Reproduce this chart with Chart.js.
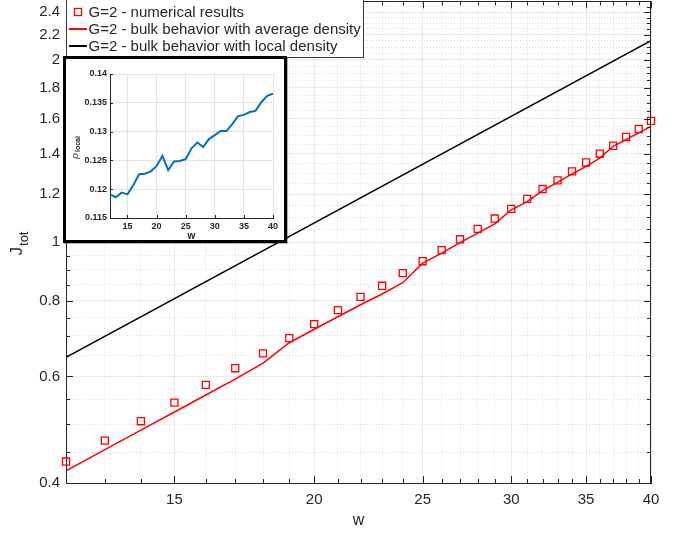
<!DOCTYPE html>
<html>
<head>
<meta charset="utf-8">
<script src="https://cdn.jsdelivr.net/npm/chart.js@4.4.0/dist/chart.umd.min.js"></script>
<style>
  html, body { margin: 0; padding: 0; background: #fff; }
  #wrap { position: relative; width: 674px; height: 534px; overflow: hidden; }
  #main { position: absolute; left: 0; top: -5px; }
  #insetBox {
    position: absolute; left: 63px; top: 56px;
    width: 218px; height: 181px;
    border: 3px solid #000; background: #fff;
    box-shadow: 1px 1px 0 rgba(0,0,0,0.3);
  }
  #inset { display: block; }
</style>
</head>
<body>
<div id="wrap">
  <canvas id="main" width="674" height="539"></canvas>
  <div id="insetBox"><canvas id="inset" width="218" height="181"></canvas></div>
</div>
<script>
// main plot data
const w = [12, 13, 14, 15, 16, 17, 18, 19, 20, 21, 22, 23, 24, 25, 26,
           27, 28, 29, 30, 31, 32, 33, 34, 35, 36, 37, 38, 39, 40];
const numerical = [0.434, 0.470, 0.506, 0.543, 0.581, 0.619, 0.655, 0.694, 0.732, 0.772,
                   0.812, 0.847, 0.889, 0.930, 0.970, 1.011, 1.052, 1.094, 1.135, 1.179,
                   1.224, 1.265, 1.309, 1.354, 1.400, 1.443, 1.492, 1.538, 1.586];
const avgDensity = [0.419, 0.454, 0.489, 0.524, 0.559, 0.594, 0.631, 0.682, 0.718, 0.753,
                    0.788, 0.821, 0.857, 0.923, 0.959, 0.998, 1.035, 1.072, 1.131, 1.167,
                    1.217, 1.255, 1.297, 1.334, 1.377, 1.440, 1.477, 1.515, 1.553];
const localW = [12, 40];
const localDensity = [0.645, 2.152];
const seriesLabels = ['G=2 - numerical results',
                      'G=2 - bulk behavior with average density',
                      'G=2 - bulk behavior with local density'];
const xTicks = [15, 20, 25, 30, 35, 40];
const yTicks = [0.4, 0.6, 0.8, 1, 1.2, 1.4, 1.6, 1.8, 2, 2.2, 2.4];

// inset data
const rhoLocal = [0.1191, 0.1186, 0.1194, 0.1191, 0.1207, 0.1226, 0.1227, 0.1231, 0.1240, 0.1258,
                  0.1233, 0.1248, 0.1249, 0.1252, 0.1271, 0.1281, 0.1273, 0.1287, 0.1294, 0.1301,
                  0.1301, 0.1313, 0.1327, 0.1329, 0.1334, 0.1336, 0.1351, 0.1362, 0.1366];
const insetXTicks = [15, 20, 25, 30, 35, 40];
const insetYTicks = [0.115, 0.12, 0.125, 0.13, 0.135, 0.14];

const textColor = '#262626';
const OFF = 5; // main canvas sits 5px above the page top
Chart.defaults.font.family = '"Liberation Sans", Arial, sans-serif';
Chart.defaults.color = textColor;

// minor tick positions (log axes)
const minorX = [];
for (let v = 12; v <= 40; v++) minorX.push(v);
const minorY = [];
for (let k = 8; k <= 50; k++) minorY.push(Math.round(k * 5) / 100);

const isIn = (arr, v) => arr.some(t => Math.abs(t - v) < 1e-6);

function inwardTicks(cfg) {
  return {
    id: 'inwardTicks' + cfg.name,
    afterDraw(chart) {
      const {ctx, chartArea: a, scales: {x, y}} = chart;
      ctx.save();
      ctx.strokeStyle = textColor;
      ctx.lineWidth = 1;
      ctx.beginPath();
      x.ticks.forEach(t => {
        const px = Math.round(x.getPixelForValue(t.value)) + 0.5;
        const len = isIn(cfg.majorX, t.value) ? cfg.major : cfg.minor;
        ctx.moveTo(px, a.bottom); ctx.lineTo(px, a.bottom - len);
        if (cfg.box) { ctx.moveTo(px, a.top); ctx.lineTo(px, a.top + len); }
      });
      y.ticks.forEach(t => {
        const py = Math.round(y.getPixelForValue(t.value)) + 0.5;
        const len = isIn(cfg.majorY, t.value) ? cfg.major : cfg.minor;
        ctx.moveTo(a.left, py); ctx.lineTo(a.left + len, py);
        if (cfg.box) { ctx.moveTo(a.right, py); ctx.lineTo(a.right - len, py); }
      });
      if (cfg.box) {
        ctx.moveTo(a.left, Math.round(a.top) + 0.5); ctx.lineTo(a.right, Math.round(a.top) + 0.5);
        ctx.moveTo(Math.round(a.right) - 0.5, a.top); ctx.lineTo(Math.round(a.right) - 0.5, a.bottom);
      }
      ctx.stroke();
      ctx.restore();
    }
  };
}

// rotated y title with subscript
function yTitle(cfg) {
  return {
    id: 'yTitle' + cfg.name,
    afterDraw(chart) {
      const ctx = chart.ctx;
      ctx.save();
      ctx.translate(cfg.x, cfg.y);
      ctx.rotate(-Math.PI / 2);
      ctx.fillStyle = textColor;
      ctx.textBaseline = 'middle';
      ctx.font = cfg.mainFont;
      const wMain = ctx.measureText(cfg.main).width;
      ctx.font = cfg.subFont;
      const wSub = ctx.measureText(cfg.sub).width;
      const start = -(wMain + wSub) / 2;
      ctx.font = cfg.mainFont;
      ctx.textAlign = 'left';
      ctx.fillText(cfg.main, start, 0);
      ctx.font = cfg.subFont;
      ctx.fillText(cfg.sub, start + wMain + 1, cfg.subShift);
      ctx.restore();
    }
  };
}

const legendBox = {
  id: 'legendBox',
  afterDraw(chart) {
    const ctx = chart.ctx;
    const left = 66.5, top = -0.5, right = 363.5, bottom = 57.5;
    ctx.save();
    ctx.translate(0, OFF);
    ctx.fillStyle = '#fff';
    ctx.fillRect(left, top, right - left, bottom - top);
    ctx.strokeStyle = '#3a3a3a';
    ctx.lineWidth = 1;
    ctx.strokeRect(left, top, right - left, bottom - top);
    ctx.font = '15px "Liberation Sans", Arial, sans-serif';
    ctx.textBaseline = 'middle';
    ctx.fillStyle = textColor;
    chart.data.datasets.forEach((ds, i) => {
      const cy = 12 + i * 17;
      ctx.strokeStyle = ds.borderColor;
      if (ds.showLine === false) {
        ctx.lineWidth = 1.3;
        ctx.strokeRect(74.5, cy - 3.5, 7, 7);
      } else {
        ctx.lineWidth = 2;
        ctx.beginPath();
        ctx.moveTo(69, cy); ctx.lineTo(87, cy);
        ctx.stroke();
      }
      ctx.fillText(ds.label, 88.5, cy + 0.5);
    });
    ctx.restore();
  }
};

new Chart(document.getElementById('main'), {
  type: 'line',
  data: {
    datasets: [
      {
        label: seriesLabels[0],
        data: w.map((v, i) => ({x: v, y: numerical[i]})),
        showLine: false,
        pointStyle: 'rect',
        pointRadius: 5,
        pointBorderWidth: 1.3,
        borderColor: '#ff0000',
        backgroundColor: 'rgba(0,0,0,0)',
        clip: false
      },
      {
        label: seriesLabels[1],
        data: w.map((v, i) => ({x: v, y: avgDensity[i]})),
        borderColor: '#ff0000',
        borderWidth: 1.5,
        pointRadius: 0,
        tension: 0
      },
      {
        label: seriesLabels[2],
        data: localW.map((v, i) => ({x: v, y: localDensity[i]})),
        borderColor: '#000000',
        borderWidth: 1.5,
        pointRadius: 0,
        tension: 0
      }
    ]
  },
  options: {
    responsive: false,
    animation: false,
    layout: {padding: {top: 0, right: 23, left: 0, bottom: 0}},
    plugins: {legend: {display: false}, tooltip: {enabled: false}},
    scales: {
      x: {
        type: 'logarithmic',
        min: 12, max: 40, bounds: 'data',
        afterBuildTicks: (s) => { s.ticks = minorX.map(v => ({value: v})); },
        afterFit: (s) => { s.height = 51; s.paddingLeft = 0; s.paddingRight = 0; },
        ticks: {
          autoSkip: false, maxRotation: 0, padding: 8,
          font: {size: 15},
          callback: (v) => isIn(xTicks, v) ? String(v) : ''
        },
        grid: {
          drawTicks: false,
          color: (c) => (c.tick && isIn(xTicks, c.tick.value)) ? 'rgba(0,0,0,0.08)' : 'rgba(0,0,0,0.13)'
        },
        border: {
          color: textColor, width: 1,
          dash: (c) => (c.tick && !isIn(xTicks, c.tick.value)) ? [1, 2] : []
        },
        title: {display: true, text: 'w', font: {size: 16}, padding: {top: 0, bottom: 4}}
      },
      y: {
        type: 'logarithmic',
        min: 0.4, max: 2.5, bounds: 'data',
        afterBuildTicks: (s) => { s.ticks = minorY.map(v => ({value: v})); },
        afterFit: (s) => { s.width = 66; s.paddingTop = 0; s.paddingBottom = 0; },
        ticks: {
          autoSkip: false, padding: 6,
          font: {size: 15},
          callback: (v) => isIn(yTicks, v) ? String(+v.toFixed(1)) : ''
        },
        grid: {
          drawTicks: false,
          color: (c) => (c.tick && isIn(yTicks, c.tick.value)) ? 'rgba(0,0,0,0.08)' : 'rgba(0,0,0,0.13)'
        },
        border: {
          color: textColor, width: 1,
          dash: (c) => (c.tick && !isIn(yTicks, c.tick.value)) ? [1, 2] : []
        }
      }
    }
  },
  plugins: [
    inwardTicks({name: 'main', majorX: xTicks, majorY: yTicks, major: 7, minor: 4, box: true}),
    yTitle({name: 'main', x: 17, y: 244 + OFF, main: 'J', sub: 'tot',
            mainFont: '17px "Liberation Sans", Arial, sans-serif',
            subFont: '13px "Liberation Sans", Arial, sans-serif', subShift: 7}),
    legendBox
  ]
});

const insetTitleX = {
  id: 'insetTitleX',
  afterDraw(chart) {
    const ctx = chart.ctx;
    const ca = chart.chartArea;
    ctx.save();
    ctx.fillStyle = textColor;
    ctx.font = 'bold 10px "Liberation Sans", Arial, sans-serif';
    ctx.textAlign = 'center';
    ctx.textBaseline = 'middle';
    ctx.fillText('w', (ca.left + ca.right) / 2, 177);
    ctx.restore();
  }
};

new Chart(document.getElementById('inset'), {
  type: 'line',
  data: {
    datasets: [{
      label: 'rho local',
      data: w.map((v, i) => ({x: v, y: rhoLocal[i]})),
      borderColor: '#0072BD',
      borderWidth: 2,
      pointRadius: 0,
      tension: 0
    }]
  },
  options: {
    responsive: false,
    animation: false,
    layout: {padding: {top: 15, right: 11, left: 0, bottom: 0}},
    plugins: {legend: {display: false}, tooltip: {enabled: false}},
    scales: {
      x: {
        type: 'linear', min: 12, max: 40,
        afterBuildTicks: (s) => { s.ticks = insetXTicks.map(v => ({value: v})); },
        afterFit: (s) => { s.height = 22; s.paddingLeft = 0; s.paddingRight = 0; },
        ticks: {autoSkip: false, maxRotation: 0, padding: 3,
                font: {size: 9, weight: 'bold'}, callback: (v) => String(v)},
        grid: {drawTicks: false, color: '#e3e3e3'},
        border: {color: textColor, width: 1}
      },
      y: {
        type: 'linear', min: 0.115, max: 0.14,
        afterBuildTicks: (s) => { s.ticks = insetYTicks.map(v => ({value: v})); },
        afterFit: (s) => { s.width = 44; s.paddingTop = 0; s.paddingBottom = 0; },
        ticks: {autoSkip: false, padding: 3,
                font: {size: 9, weight: 'bold'}, callback: (v) => String(+v.toFixed(3))},
        grid: {drawTicks: false, color: '#e3e3e3'},
        border: {color: textColor, width: 1}
      }
    }
  },
  plugins: [
    inwardTicks({name: 'inset', majorX: insetXTicks, majorY: insetYTicks, major: 3, minor: 3, box: false}),
    yTitle({name: 'inset', x: 9, y: 89, main: 'ρ', sub: 'local',
            mainFont: 'italic 10px "DejaVu Serif", serif',
            subFont: 'bold 7px "Liberation Sans", Arial, sans-serif', subShift: 3}),
    insetTitleX
  ]
});
</script>
</body>
</html>
